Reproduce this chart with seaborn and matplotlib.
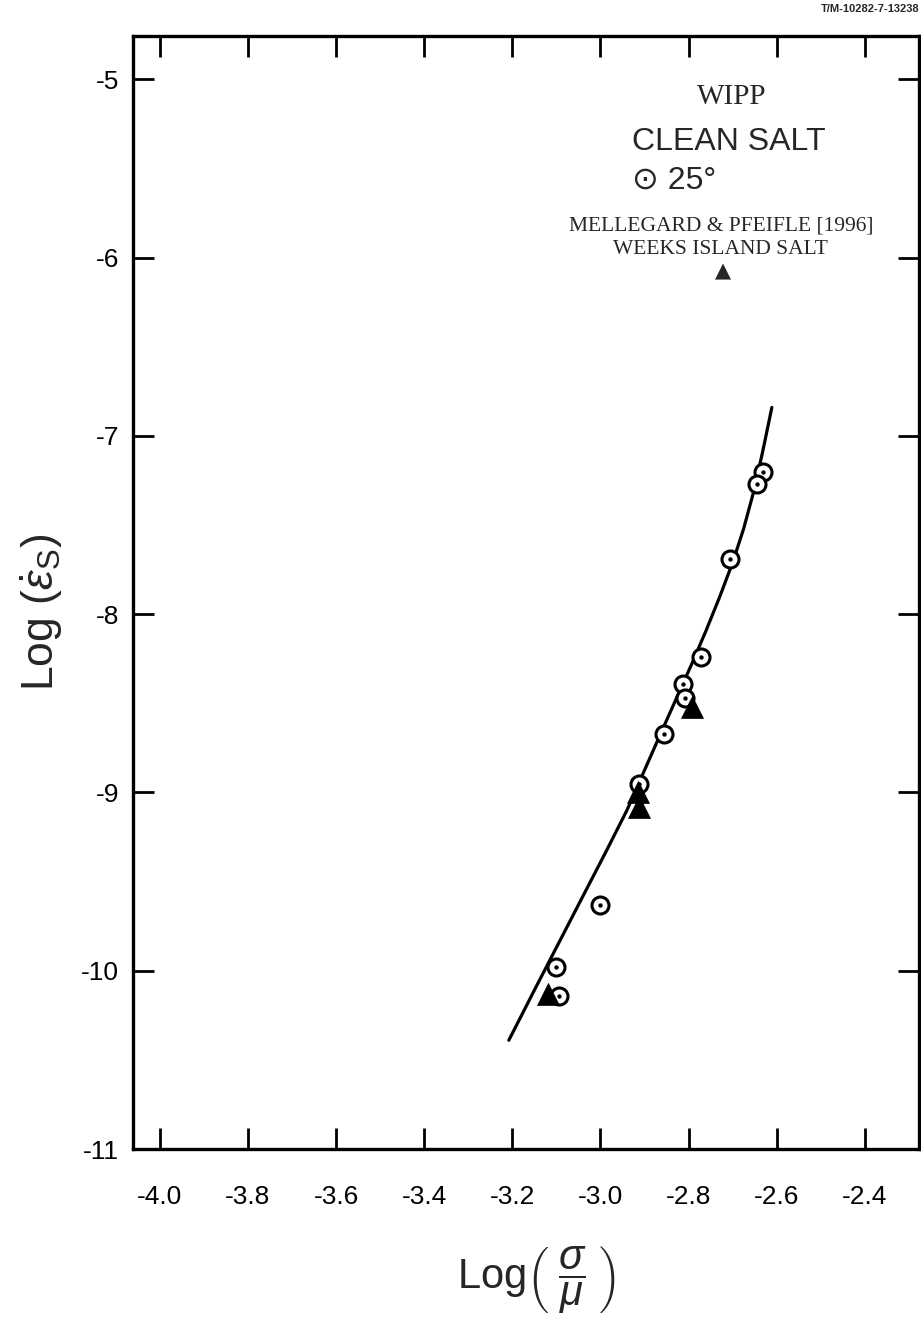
import matplotlib
matplotlib.use("Agg")
import matplotlib.pyplot as plt
import seaborn as sns
import pandas as pd

# ---- data ----
wipp_x = [-2.630, -2.645, -2.705, -2.772, -2.812, -2.808, -2.855, -2.913, -3.000, -3.100, -3.095]
wipp_y = [-7.20, -7.27, -7.69, -8.24, -8.39, -8.47, -8.67, -8.95, -9.63, -9.98, -10.14]

weeks_x = [-2.793, -2.915, -2.913, -3.119]
weeks_y = [-8.52, -9.00, -9.08, -10.13]

fit_x = [-3.208, -3.144, -3.029, -2.985, -2.940, -2.892, -2.849, -2.793,
         -2.760, -2.729, -2.700, -2.675, -2.652, -2.632, -2.611]
fit_y = [-10.39, -10.08, -9.53, -9.32, -9.10, -8.83, -8.59, -8.28,
         -8.09, -7.90, -7.71, -7.52, -7.31, -7.09, -6.84]

x_ticks = [-4.0, -3.8, -3.6, -3.4, -3.2, -3.0, -2.8, -2.6, -2.4]
x_tick_labels = ["-4.0", "-3.8", "-3.6", "-3.4", "-3.2", "-3.0", "-2.8", "-2.6", "-2.4"]
y_ticks = [-5, -6, -7, -8, -9, -10, -11]
y_tick_labels = ["-5", "-6", "-7", "-8", "-9", "-10", "-11"]

sns.set_theme(style="ticks")
plt.rcParams["font.family"] = ["Liberation Sans", "DejaVu Sans"]
plt.rcParams["mathtext.fontset"] = "custom"
plt.rcParams["mathtext.rm"] = "Liberation Sans"
plt.rcParams["mathtext.it"] = "Liberation Sans:italic"
plt.rcParams["mathtext.bf"] = "Liberation Sans:bold"

fig = plt.figure(figsize=(9.21, 13.18), dpi=100)
ax = fig.add_axes([133 / 921, 1 - 1149 / 1318, (919 - 133) / 921, (1149 - 36) / 1318])

fit_df = pd.DataFrame({"x": fit_x, "y": fit_y})
wipp_df = pd.DataFrame({"x": wipp_x, "y": wipp_y})
weeks_df = pd.DataFrame({"x": weeks_x, "y": weeks_y})

sns.lineplot(data=fit_df, x="x", y="y", sort=False, color="black", linewidth=2.3, ax=ax, zorder=2)
sns.scatterplot(data=wipp_df, x="x", y="y", marker="o", s=150, facecolor="white",
                edgecolor="black", linewidth=2.2, ax=ax, zorder=3)
sns.scatterplot(data=wipp_df, x="x", y="y", marker="o", s=10, color="black",
                edgecolor="black", linewidth=0, ax=ax, zorder=4)
sns.scatterplot(data=weeks_df, x="x", y="y", marker="^", s=250, color="black",
                edgecolor="black", linewidth=0.5, ax=ax, zorder=5)

ax.set_xlim(-4.061, -2.277)
ax.set_ylim(-11.0, -4.756)
ax.set_xticks(x_ticks)
ax.set_xticklabels(x_tick_labels)
ax.set_yticks(y_ticks)
ax.set_yticklabels(y_tick_labels)

for s in ax.spines.values():
    s.set_visible(True)
    s.set_linewidth(2.4)
    s.set_color("black")
ax.tick_params(axis="both", which="major", direction="in", length=15, width=2.0,
               top=True, right=True, labelsize=19, colors="black", pad=10)
ax.tick_params(axis="x", pad=26)

ax.set_xlabel(r"Log$\left(\;\dfrac{\sigma}{\mu}\;\right)$", fontsize=30)
ax.set_ylabel(r"Log $(\dot{\varepsilon}_{\mathrm{S}})$", fontsize=32)
ax.xaxis.set_label_coords((536 - 133) / 786, -(1318 - 1149 - 38) / 1113, transform=ax.transAxes)
ax.yaxis.set_label_coords(-(133 - 42) / 786, (1149 - 612) / 1113, transform=ax.transAxes)
ax.xaxis.label.set_va("center")
ax.yaxis.label.set_va("center")

# in-plot annotations (axes fractions)
ax.text(0.762, (1149 - 97) / 1113, "WIPP", transform=ax.transAxes, ha="center", va="center",
        fontsize=21, family="Liberation Serif")
ax.text(0.635, (1149 - 142) / 1113, "CLEAN SALT", transform=ax.transAxes, ha="left",
        va="center", fontsize=23)
ax.text(0.635, (1149 - 181) / 1113, "\u2299 25\u00b0", transform=ax.transAxes, ha="left",
        va="center", fontsize=23, family=["Liberation Sans", "DejaVu Sans"])
ax.text(0.748, (1149 - 226) / 1113, "MELLEGARD & PFEIFLE [1996]", transform=ax.transAxes,
        ha="center", va="center", fontsize=15.5, family="Liberation Serif")
ax.text(0.748, (1149 - 250) / 1113, "WEEKS ISLAND SALT", transform=ax.transAxes,
        ha="center", va="center", fontsize=15.5, family="Liberation Serif")
ax.text(0.750, (1149 - 271) / 1113, "\u25B2", transform=ax.transAxes, ha="center",
        va="center", fontsize=15, family=["DejaVu Sans"])

fig.text(0.998, 0.9935, "T/M-10282-7-13238", ha="right", va="center", fontsize=8,
         fontweight="bold")

fig.savefig("out.png", dpi=100, facecolor="white")
